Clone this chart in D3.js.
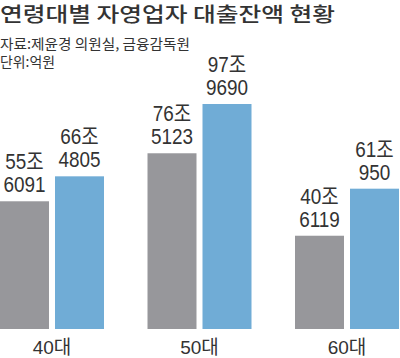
<!DOCTYPE html>
<html><head><meta charset="utf-8">
<script src="https://cdn.jsdelivr.net/npm/d3@7"></script>
<style>
body{margin:0;background:#fff;}
svg{display:block;}
</style></head>
<body>
<svg id="c" width="400" height="358"></svg>
<script>
const title = "연령대별 자영업자 대출잔액 현황";
const source = "자료:제윤경 의원실, 금융감독원";
const unit = "단위:억원";
const categories = ["40대", "50대", "60대"];
const seriesA = [556091, 765123, 406119];
const seriesB = [664805, 979690, 610950];
const labelsA = [["55조","6091"],["76조","5123"],["40조","6119"]];
const labelsB = [["66조","4805"],["97조","9690"],["61조","950"]];

const svg = d3.select("#c");
const baseY = 329, topY = 104;
const textColor = "#333";
const colors = {a: "#97979b", b: "#70acd6"};

svg.append("text").attr("x", 0).attr("y", 22)
  .attr("font-family", "'Noto Sans CJK KR', sans-serif")
  .attr("font-weight", 500).attr("font-size", 20)
  .attr("fill", textColor)
  .attr("textLength", 335).attr("lengthAdjust", "spacingAndGlyphs")
  .text(title);
svg.append("text").attr("x", 0).attr("y", 49)
  .attr("font-family", "'Noto Sans CJK KR', sans-serif")
  .attr("font-size", 14).attr("fill", textColor)
  .attr("textLength", 190).attr("lengthAdjust", "spacingAndGlyphs")
  .text(source);
svg.append("text").attr("x", 0).attr("y", 67)
  .attr("font-family", "'Noto Sans CJK KR', sans-serif")
  .attr("font-size", 14).attr("fill", textColor)
  .attr("textLength", 55).attr("lengthAdjust", "spacingAndGlyphs")
  .text(unit);

const x0 = d3.scaleBand().domain(categories).range([0, 399]).paddingInner(43.5/147.5).paddingOuter(0);
const x1 = d3.scaleBand().domain(["a","b"]).range([0, x0.bandwidth()]).paddingInner(6/55);
const y = d3.scaleLinear().domain([0, d3.max(seriesB)]).range([baseY, topY]);

const data = [];
categories.forEach((c, i) => {
  data.push({cat: c, key: "a", v: seriesA[i], lab: labelsA[i]});
  data.push({cat: c, key: "b", v: seriesB[i], lab: labelsB[i]});
});

const g = svg.append("g");
g.selectAll("rect").data(data).join("rect")
  .attr("x", d => x0(d.cat) + x1(d.key))
  .attr("y", d => y(d.v))
  .attr("width", x1.bandwidth())
  .attr("height", d => baseY - y(d.v))
  .attr("fill", d => colors[d.key]);

const lab = g.selectAll("g.lab").data(data).join("g")
  .attr("class", "lab")
  .attr("transform", d => `translate(${x0(d.cat) + x1(d.key) + x1.bandwidth()/2},${y(d.v) - 9}) scale(0.86,1)`);
lab.each(function(d){
  const s = d3.select(this);
  s.append("text").attr("y", -23).text(d.lab[0]);
  s.append("text").attr("y", 0).text(d.lab[1]);
});
lab.selectAll("text")
  .attr("text-anchor", "middle")
  .attr("font-family", "'Liberation Sans Narrow', 'Liberation Sans', 'Noto Sans CJK KR', sans-serif")
  .attr("font-size", 22)
  .attr("fill", textColor);

const xAxis = d3.axisBottom(x0).tickSize(0).tickPadding(0);
const ax = svg.append("g").attr("transform", `translate(0,${baseY})`).call(xAxis);
ax.select(".domain").remove();
ax.selectAll(".tick text")
  .attr("y", 25).attr("dy", 0)
  .attr("font-family", "'Liberation Sans Narrow', 'Liberation Sans', 'Noto Sans CJK KR', sans-serif")
  .attr("font-size", 19)
  .attr("fill", textColor);
</script>
</body></html>
